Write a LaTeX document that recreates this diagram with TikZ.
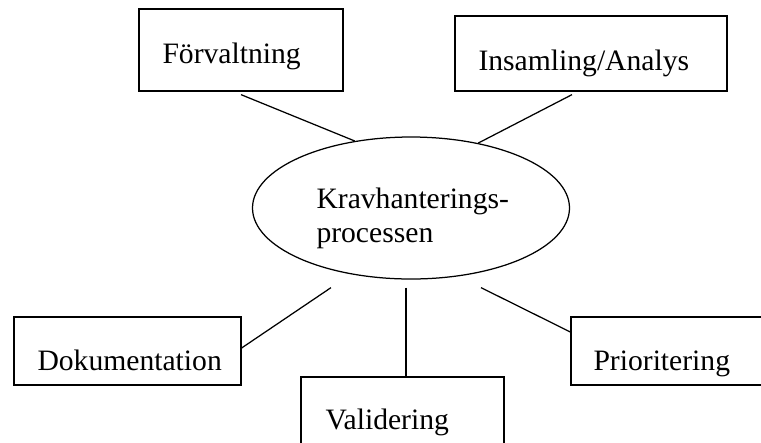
\documentclass[tikz,border=0pt]{standalone}
\usepackage{fontspec}
\setmainfont{Liberation Serif}
\usepackage{tikz}
\usetikzlibrary{shapes.geometric, calc}
\newdimen\pxu
\pxu=0.4pt

\begin{document}
\begin{tikzpicture}[
  x=\pxu, y=-\pxu,
  box/.style={rectangle, draw=black, line width=0.5pt, inner sep=0pt},
  lbl/.style={anchor=base west, inner sep=0pt, font=\fontsize{11.85}{13.6}\selectfont},
  link/.style={draw=black, line width=0.5pt},
]
  \useasboundingbox (0,0) rectangle (761,442);

  % the process in the middle
  \node[ellipse, draw=black, line width=0.5pt, minimum width=317\pxu, minimum height=142\pxu, inner sep=0pt] (proc) at (411,208) {};
  \node[lbl, align=left] (proctxt) at (316,242) {Kravhanterings-\\processen};

  % boxes round it
  \node[box, minimum width=204\pxu, minimum height=82\pxu] (forv) at (241,50) {};
  \node[lbl] (forvtxt) at (162,63) {Förvaltning};
  \node[box, minimum width=272\pxu, minimum height=75\pxu] (insam) at (591,53.5) {};
  \node[lbl] (insamtxt) at (478,70) {Insamling/Analys};
  \node[box, minimum width=227\pxu, minimum height=68\pxu] (doku) at (127.5,351) {};
  \node[lbl] (dokutxt) at (37,370) {Dokumentation};
  \node[box, minimum width=203\pxu, minimum height=80\pxu] (vali) at (402.5,417) {};
  \node[lbl] (valitxt) at (325,429) {Validering};
  \node[box, minimum width=230\pxu, minimum height=68\pxu] (prio) at (686,351) {};
  \node[lbl] (priotxt) at (593,370) {Prioritering};

  \coordinate (dl) at ($(proc.south)+(-80,8)$);
  \coordinate (dm) at ($(proc.south)+(-5,8)$);
  \coordinate (dr) at ($(proc.south)+(70,8)$);

  \draw[link] ([yshift=-3\pxu]forv.south) -- (proc.130);
  \draw[link] ([xshift=-19\pxu, yshift=-3\pxu]insam.south) -- (proc.44);
  \draw[link] ([yshift=3\pxu]doku.east) -- (dl);
  \draw[link] (dm) -- (dm |- vali.north);
  \draw[link] (dr) -- ([yshift=19\pxu]prio.west);
\end{tikzpicture}
\end{document}
